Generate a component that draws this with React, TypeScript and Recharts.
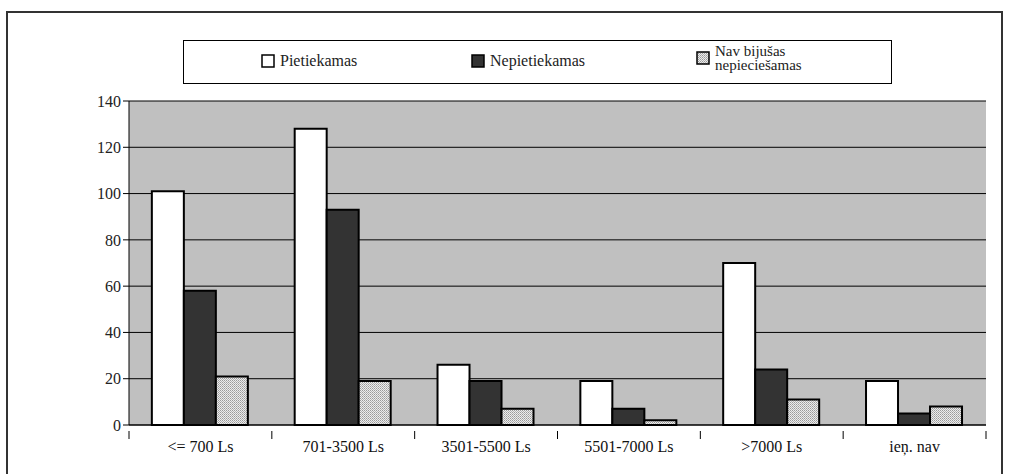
import { BarChart, Bar, XAxis, YAxis, CartesianGrid } from "recharts";

const categories = ["<= 700 Ls", "701-3500 Ls", "3501-5500 Ls", "5501-7000 Ls", ">7000 Ls", "ieņ. nav"];
const pietiekamas = [101, 128, 26, 19, 70, 19];
const nepietiekamas = [58, 93, 19, 7, 24, 5];
const navBijusas = [21, 19, 7, 2, 11, 8];
const yTicks = [0, 20, 40, 60, 80, 100, 120, 140];

const data = categories.map((name, i) => ({
  name,
  pietiekamas: pietiekamas[i],
  nepietiekamas: nepietiekamas[i],
  navBijusas: navBijusas[i],
}));

const W = 1021;
const H = 474;
const plotLeft = 129;
const plotRight = 986;
const band = (plotRight - plotLeft) / categories.length;
const font = "'Times New Roman', 'Liberation Serif', 'DejaVu Serif', 'Noto Serif', serif";

function XTick(props: any) {
  const { x, y, payload, index } = props;
  const left = x - band / 2;
  return (
    <g>
      <line x1={left} y1={y - 2} x2={left} y2={y + 6} stroke="#000" strokeWidth={1} />
      {index === categories.length - 1 && (
        <line x1={left + band} y1={y - 2} x2={left + band} y2={y + 6} stroke="#000" strokeWidth={1} />
      )}
      <text x={x} y={y + 19} textAnchor="middle" fontSize={16} style={{ fontFamily: font }} fill="#111">
        {payload.value}
      </text>
    </g>
  );
}

function Marker({ fill }: { fill: string }) {
  return (
    <svg width={14} height={14} style={{ display: "block" }}>
      <rect x={1} y={1} width={12} height={12} fill={fill} stroke="#000" strokeWidth={1.5} />
    </svg>
  );
}

function LegendBox() {
  return (
    <div
      style={{
        position: "absolute",
        left: 183,
        top: 40,
        width: 709,
        height: 44,
        border: "1.5px solid #000",
        boxSizing: "border-box",
        background: "#fff",
        fontFamily: font,
        color: "#222",
      }}
    >
      <div style={{ position: "absolute", left: 77, top: 11, display: "flex", alignItems: "center", gap: 5, fontSize: 16 }}>
        <Marker fill="#fff" /> <span>Pietiekamas</span>
      </div>
      <div style={{ position: "absolute", left: 287, top: 11, display: "flex", alignItems: "center", gap: 5, fontSize: 16 }}>
        <Marker fill="#333" /> <span>Nepietiekamas</span>
      </div>
      <div style={{ position: "absolute", left: 512, top: 3, display: "flex", alignItems: "center", gap: 5, fontSize: 15 }}>
        <Marker fill="url(#hatch)" />
        <span style={{ lineHeight: "14px" }}>
          Nav bijušas
          <br />
          nepieciešamas
        </span>
      </div>
    </div>
  );
}

export default function App() {
  return (
    <div style={{ position: "relative", width: W, height: H, background: "#fff", overflow: "hidden", fontFamily: font }}>
      <style>{`body{margin:0}`}</style>
      <div
        style={{
          position: "absolute",
          left: 6,
          top: 11,
          width: 997,
          height: 480,
          border: "2px solid #333",
          boxSizing: "border-box",
        }}
      />
      <svg width={0} height={0} style={{ position: "absolute" }}>
        <defs>
          <pattern id="hatch" width={2} height={2} patternUnits="userSpaceOnUse">
            <rect width={2} height={2} fill="#ececec" />
            <rect x={0} y={0} width={1} height={1} fill="#9a9a9a" />
            <rect x={1} y={1} width={1} height={1} fill="#b4b4b4" />
          </pattern>
        </defs>
      </svg>
      <BarChart
        width={W}
        height={H}
        data={data}
        margin={{ top: 101, right: W - plotRight, left: 0, bottom: 19 }}
        barCategoryGap="16%"
        barGap={0}
        style={{ position: "absolute", left: 0, top: 0 }}
      >
        <CartesianGrid vertical={false} stroke="#000" strokeWidth={1} fill="#c0c0c0" fillOpacity={1} />
        <XAxis
          dataKey="name"
          xAxisId={0}
          height={30}
          stroke="#000"
          tickLine={false}
          tick={<XTick />}
          interval={0}
        />
        <XAxis xAxisId="top" orientation="top" dataKey="name" height={0} stroke="#808080" strokeWidth={2} tick={false} tickLine={false} />
        <YAxis
          width={plotLeft}
          domain={[0, 140]}
          ticks={yTicks}
          interval={0}
          stroke="#000"
          tickSize={6}
          tick={{ fontSize: 16, fill: "#222", style: { fontFamily: font } }}
          tickLine={{ stroke: "#000" }}
        />
        <YAxis yAxisId="right" orientation="right" width={0} stroke="#808080" tick={false} tickLine={false} />
        <Bar dataKey="pietiekamas" fill="#fff" stroke="#000" strokeWidth={2} isAnimationActive={false} />
        <Bar dataKey="nepietiekamas" fill="#333" stroke="#000" strokeWidth={2} isAnimationActive={false} />
        <Bar dataKey="navBijusas" fill="url(#hatch)" stroke="#000" strokeWidth={2} isAnimationActive={false} />
      </BarChart>
      <LegendBox />
    </div>
  );
}
